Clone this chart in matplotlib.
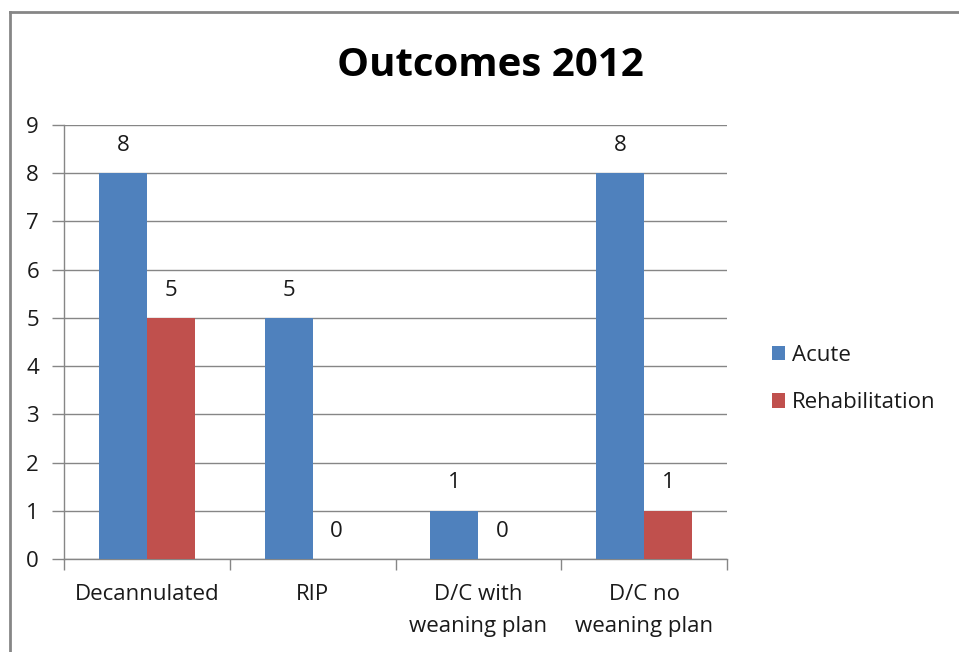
import matplotlib.pyplot as plt
import numpy as np

# Chart data
categories = ["Decannulated", "RIP", "D/C with\nweaning plan", "D/C no\nweaning plan"]
acute = [8, 5, 1, 8]
rehab = [5, 0, 0, 1]
series_names = ["Acute", "Rehabilitation"]

blue = "#4F81BD"
red = "#C0504D"
grey = "#868686"
txt = "#1a1a1a"

plt.rcParams['font.family'] = ['Open Sans', 'DejaVu Sans']
plt.rcParams['text.color'] = txt

fig = plt.figure(figsize=(9.59, 6.52), dpi=100)
ax = fig.add_axes([64 / 959, 1 - 559 / 652, (727 - 64) / 959, (559 - 125) / 652])

x = np.arange(len(categories))
w = 0.29
b1 = ax.bar(x - w / 2, acute, w, color=blue, label=series_names[0], zorder=3)
b2 = ax.bar(x + w / 2, rehab, w, color=red, label=series_names[1], zorder=3)

# value labels
for bars in (b1, b2):
    for rect in bars:
        h = rect.get_height()
        ax.annotate(str(int(h)), (rect.get_x() + rect.get_width() / 2, h),
                    xytext=(0, 20), textcoords="offset points",
                    ha="center", va="center", fontsize=16)

ax.set_xlim(-0.5, len(categories) - 0.5)
ax.set_ylim(0, 9)
ax.set_yticks(range(0, 10))
ax.yaxis.grid(True, color=grey, linewidth=1, zorder=0)

# category labels between boundary ticks
ax.set_xticks(np.arange(-0.5, len(categories)), minor=False)
ax.set_xticklabels([])
ax.set_xticks(x, minor=True)
ax.set_xticklabels(categories, minor=True, fontsize=16, linespacing=1.7, color=txt)
ax.tick_params(axis="x", which="minor", length=0, pad=18)
ax.tick_params(axis="x", which="major", length=8, color=grey, width=1)
ax.tick_params(axis="y", length=9, color=grey, width=1, labelsize=16, pad=9, labelcolor=txt)

for s in ["top", "right"]:
    ax.spines[s].set_visible(False)
for s in ["left", "bottom"]:
    ax.spines[s].set_color(grey)
    ax.spines[s].set_linewidth(1)

fig.text(490 / 959, 1 - 65 / 652, "Outcomes 2012", ha="center", va="center",
         fontsize=29, fontweight="bold", color="black")

leg = fig.legend(handles=[b1, b2], labels=series_names, loc="center left",
                 bbox_to_anchor=(752 / 959, 1 - 379 / 652), frameon=False,
                 fontsize=16, handlelength=0.6, handleheight=0.6,
                 handletextpad=0.3, labelspacing=1.2)

# outer chart border
fig.add_artist(plt.Line2D([9.5 / 959, 9.5 / 959], [0, 1 - 12 / 652], color=grey, linewidth=2, transform=fig.transFigure))
fig.add_artist(plt.Line2D([9.5 / 959, 1], [1 - 12 / 652, 1 - 12 / 652], color=grey, linewidth=2, transform=fig.transFigure))

fig.savefig("out.png", dpi=100)
